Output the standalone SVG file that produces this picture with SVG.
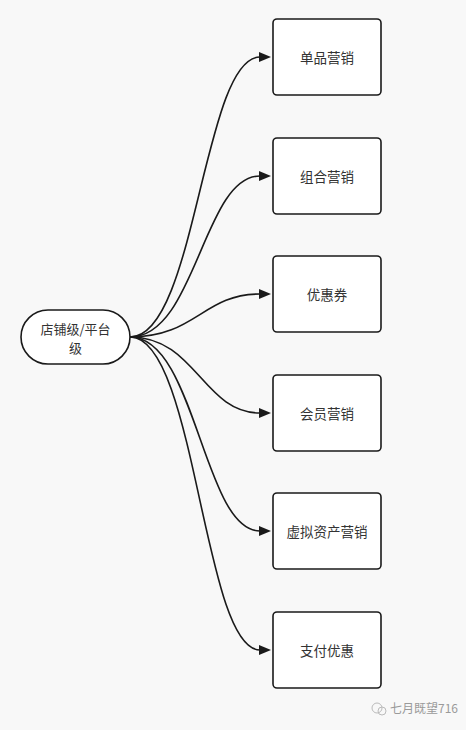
<svg xmlns="http://www.w3.org/2000/svg" width="466" height="730" viewBox="0 0 466 730">
<style>
.box{fill:#ffffff;stroke:#1a1a1a;stroke-width:1.6}
.t{font-family:"Noto Sans CJK SC","Noto Sans",sans-serif;font-size:13.5px;fill:#333333;text-anchor:middle;dominant-baseline:central}
.r{font-size:13px}
.e{fill:none;stroke:#1a1a1a;stroke-width:1.6}
</style>
<defs>
<marker id="ah" viewBox="0 0 12 10" refX="1" refY="5" markerWidth="13" markerHeight="10" markerUnits="userSpaceOnUse" orient="auto">
<path d="M0,0 L12,5 L0,10 Z" fill="#1a1a1a"/>
</marker>
</defs>
<rect width="466" height="730" fill="#f8f8f8"/>
<g id="connectors">
<path class="e" marker-end="url(#ah)" d="M130,337 C196,337 203,57 260,57"/>
<path class="e" marker-end="url(#ah)" d="M130,337 C196,337 203,176 260,176"/>
<path class="e" marker-end="url(#ah)" d="M130,337 C196,337 203,294 260,294"/>
<path class="e" marker-end="url(#ah)" d="M130,337 C196,337 203,413 260,413"/>
<path class="e" marker-end="url(#ah)" d="M130,337 C196,337 203,531 260,531"/>
<path class="e" marker-end="url(#ah)" d="M130,337 C196,337 203,650 260,650"/>
</g>
<g id="root">
<rect class="box" x="21" y="310" width="109" height="54" rx="27"/>
<text class="t r" x="75.5" y="328">店铺级/平台</text>
<text class="t r" x="75.5" y="347">级</text>
</g>
<g id="n1"><rect class="box" x="273" y="19" width="108" height="76" rx="4"/><text class="t" x="327" y="57">单品营销</text></g>
<g id="n2"><rect class="box" x="273" y="138" width="108" height="76" rx="4"/><text class="t" x="327" y="176">组合营销</text></g>
<g id="n3"><rect class="box" x="273" y="256" width="108" height="76" rx="4"/><text class="t" x="327" y="294">优惠券</text></g>
<g id="n4"><rect class="box" x="273" y="375" width="108" height="76" rx="4"/><text class="t" x="327" y="413">会员营销</text></g>
<g id="n5"><rect class="box" x="273" y="493" width="108" height="76" rx="4"/><text class="t" x="327" y="531">虚拟资产营销</text></g>
<g id="n6"><rect class="box" x="273" y="612" width="108" height="76" rx="4"/><text class="t" x="327" y="650">支付优惠</text></g>
<g id="watermark">
<circle cx="377" cy="708" r="5" fill="none" stroke="#bbbbbb" stroke-width="1"/>
<circle cx="382" cy="711" r="4" fill="none" stroke="#bbbbbb" stroke-width="1"/>
<text x="390" y="713" font-family="Noto Sans CJK SC,sans-serif" font-size="12" fill="#9a9a9a">七月既望716</text>
</g>
</svg>
